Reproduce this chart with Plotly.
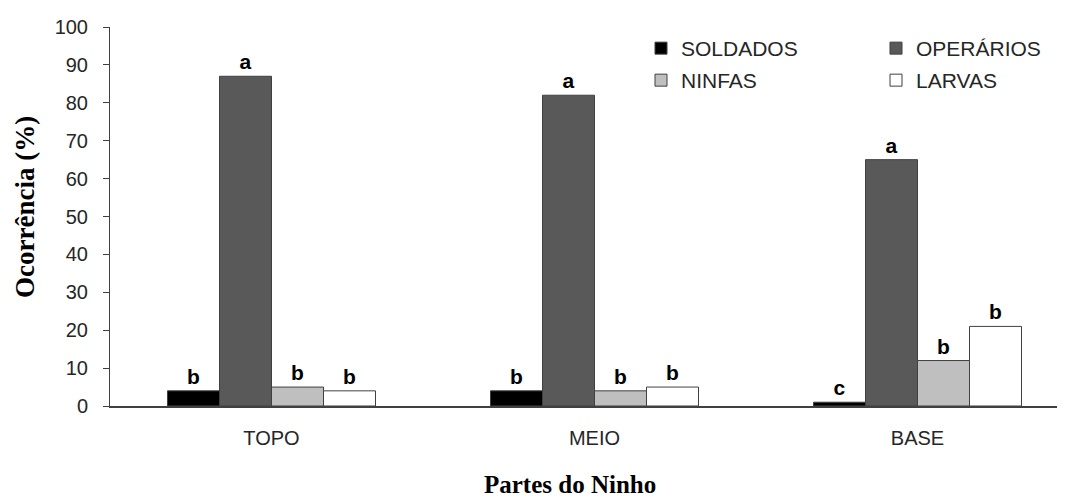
import plotly.graph_objects as go

categories = ["TOPO", "MEIO", "BASE"]
series_names = ["SOLDADOS", "OPERÁRIOS", "NINFAS", "LARVAS"]
soldados = [4, 4, 1]
operarios = [87, 82, 65]
ninfas = [5, 4, 12]
larvas = [4, 5, 21]
letters_soldados = ["b", "b", "c"]
letters_operarios = ["a", "a", "a"]
letters_ninfas = ["b", "b", "b"]
letters_larvas = ["b", "b", "b"]
y_ticks = [0, 10, 20, 30, 40, 50, 60, 70, 80, 90, 100]

values = [soldados, operarios, ninfas, larvas]
letters = [letters_soldados, letters_operarios, letters_ninfas, letters_larvas]
colors = ["#000000", "#595959", "#BFBFBF", "#FFFFFF"]
legend_ids = ["legend", "legend2", "legend3", "legend4"]

# the page body adds an 8px offset; work in figure pixel coords = page coords - 8
OFF = 8
W, H = 1065, 496
L = 110 - OFF
T = 27 - OFF
B = H - (406 - OFF)
R = 0
pw = W - L - R
ph = H - T - B


def px_x(x):
    return (x - OFF - L) / pw


def px_y(y):
    return (H - B - (y - OFF)) / ph


fig = go.Figure()
for name, vals, lab, col, lg in zip(series_names, values, letters, colors, legend_ids):
    fig.add_trace(go.Bar(
        x=categories, y=vals, name=name,
        marker=dict(color=col, line=dict(color="#404040", width=1)),
        text=lab, textposition="outside", cliponaxis=False,
        textfont=dict(family="Liberation Sans", size=21, color="#000000", weight="bold"),
        legend=lg,
    ))

# legend placements (page pixel positions of each legend box's top-left)
legend_px = {"legend": (641, 28), "legend2": (876, 28), "legend3": (641, 60), "legend4": (876, 60)}
leg_common = dict(orientation="h", xanchor="left", yanchor="top",
                  font=dict(size=21, color="#262626"), bgcolor="rgba(0,0,0,0)",
                  itemclick=False, itemdoubleclick=False)
legend_layout = {}
for k, (px, py) in legend_px.items():
    legend_layout[k] = dict(x=px_x(px), y=px_y(py), **leg_common)

fig.update_layout(
    width=W, height=H,
    margin=dict(l=L, r=R, t=T, b=B, autoexpand=False),
    paper_bgcolor="white", plot_bgcolor="white",
    barmode="group", bargap=0.356, bargroupgap=0,
    font=dict(family="Liberation Sans", size=20, color="#262626"),
    showlegend=True,
    xaxis=dict(range=[-0.5, -0.5 + pw / 323.0], showline=True, linecolor="#404040", linewidth=1.5,
               ticks="", showgrid=False, zeroline=False, automargin=False, ticklabelstandoff=13,
               tickfont=dict(size=20, color="#262626")),
    yaxis=dict(range=[0, 100], tickvals=y_ticks, showline=True, linecolor="#404040", linewidth=1,
               ticks="outside", ticklen=6, tickcolor="#404040", ticklabelstandoff=11,
               showgrid=False, zeroline=False, automargin=False,
               tickfont=dict(size=20, color="#262626")),
    annotations=[
        dict(text="<b>Ocorrência (%)</b>", xref="paper", yref="paper",
             x=px_x(25), y=px_y(207), textangle=-90, showarrow=False,
             font=dict(family="Liberation Serif", size=27, color="#000000"),
             xanchor="center", yanchor="middle"),
        dict(text="<b>Partes do Ninho</b>", xref="paper", yref="paper",
             x=px_x(570), y=px_y(484), showarrow=False,
             font=dict(family="Liberation Serif", size=25, color="#000000"),
             xanchor="center", yanchor="middle"),
    ],
    **legend_layout,
)

fig.write_html("out.html")
